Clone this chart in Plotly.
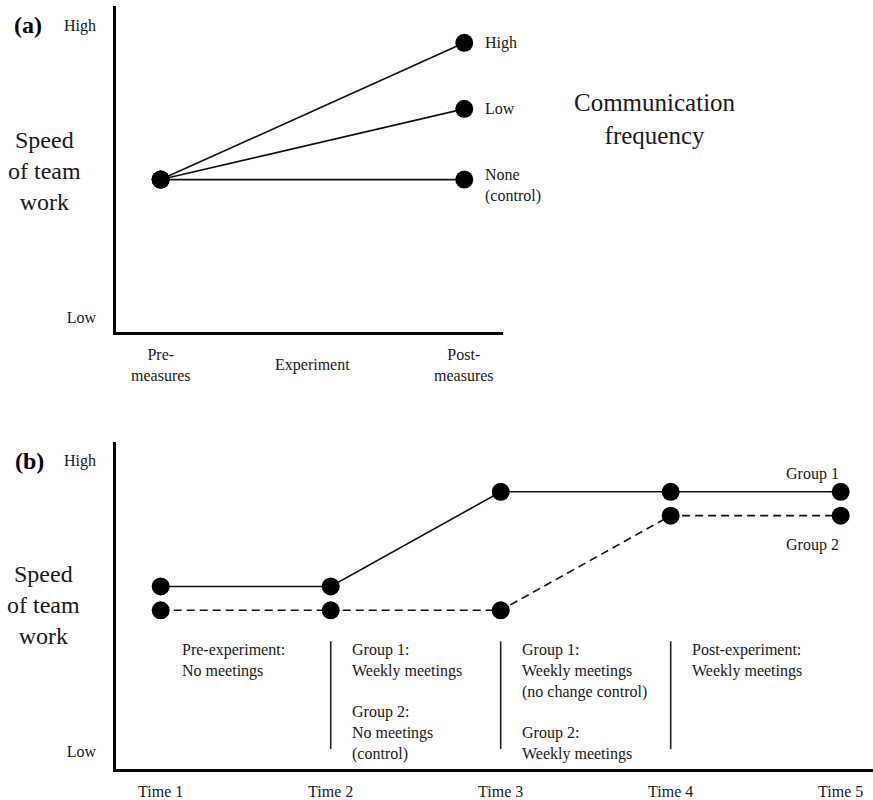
import plotly.graph_objects as go

W, H = 873, 800
FONT = "Liberation Serif, Times New Roman, serif"
TXT = "#1a1a1a"

# ---------------- Panel (a) data ----------------
a_x_labels = ["Pre-<br>measures", "Experiment", "Post-<br>measures"]
a_y_tickvals = [0, 10]
a_y_ticktext = ["Low", "High"]
a_pre_value = 4.71
a_post_levels = ["High", "Low", "None<br>(control)"]
a_post_values = [9.39, 7.13, 4.71]
a_legend_title = "Communication<br>frequency"

# ---------------- Panel (b) data ----------------
b_times = ["Time 1", "Time 2", "Time 3", "Time 4", "Time 5"]
b_group1 = [5.67, 5.67, 8.93, 8.93, 8.93]
b_group2 = [4.85, 4.85, 4.85, 8.11, 8.11]
b_y_tickvals = [0, 10]
b_y_ticktext = ["Low", "High"]
b_phase_text = [
    "Pre-experiment:<br>No meetings",
    "Group 1:<br>Weekly meetings<br> <br>Group 2:<br>No meetings<br>(control)",
    "Group 1:<br>Weekly meetings<br>(no change control)<br> <br>Group 2:<br>Weekly meetings",
    "Post-experiment:<br>Weekly meetings",
]
b_separators = [2, 3, 4]
b_group_labels = ["Group 1", "Group 2"]

y_title = "Speed<br>of team<br>work"

fig = go.Figure()

# Panel (a) lines from pre to each post level
for lvl, val in zip(a_post_levels, a_post_values):
    fig.add_trace(go.Scatter(
        x=[0, 2], y=[a_pre_value, val], mode="lines+markers",
        line=dict(color="#111", width=1.6),
        marker=dict(color="black", size=18),
        xaxis="x", yaxis="y", showlegend=False, hoverinfo="skip"))

# Panel (b)
xs = list(range(1, len(b_times) + 1))
fig.add_trace(go.Scatter(
    x=xs, y=b_group1, mode="lines+markers",
    line=dict(color="#111", width=1.6),
    marker=dict(color="black", size=18),
    xaxis="x2", yaxis="y2", showlegend=False, hoverinfo="skip"))
fig.add_trace(go.Scatter(
    x=xs, y=b_group2, mode="lines+markers",
    line=dict(color="#111", width=1.6, dash="8px,5px"),
    marker=dict(color="black", size=18),
    xaxis="x2", yaxis="y2", showlegend=False, hoverinfo="skip"))

annotations = []
# (a) x labels
for i, lab in enumerate(a_x_labels):
    annotations.append(dict(x=i, y=(800 - 366) / 800, xref="x", yref="paper",
                            text=lab, showarrow=False, xanchor="center", yanchor="middle",
                            font=dict(family=FONT, size=16, color=TXT)))
# (a) post labels
for lvl, val in zip(a_post_levels, a_post_values):
    yv = val if "<br>" not in lvl else val - 0.2
    annotations.append(dict(x=2.123, y=yv, xref="x", yref="y", text=lvl, align="left",
                            showarrow=False, xanchor="left", yanchor="middle",
                            font=dict(family=FONT, size=16, color=TXT)))
annotations.append(dict(x=655 / W, y=(800 - 119) / 800, xref="paper", yref="paper",
                        text=a_legend_title, showarrow=False, xanchor="center", yanchor="middle",
                        font=dict(family=FONT, size=25, color=TXT)))
# y titles
annotations.append(dict(x=44 / W, y=(800 - 171) / 800, xref="paper", yref="paper",
                        text=y_title, showarrow=False, xanchor="center", yanchor="middle",
                        font=dict(family=FONT, size=24, color=TXT)))
annotations.append(dict(x=43 / W, y=(800 - 607) / 800, xref="paper", yref="paper",
                        text=y_title, showarrow=False, xanchor="center", yanchor="middle",
                        font=dict(family=FONT, size=24, color=TXT)))
# panel letters
annotations.append(dict(x=28 / W, y=(800 - 25) / 800, xref="paper", yref="paper",
                        text="<b>(a)</b>", showarrow=False, xanchor="center", yanchor="middle",
                        font=dict(family=FONT, size=24, color="black")))
annotations.append(dict(x=29 / W, y=(800 - 462) / 800, xref="paper", yref="paper",
                        text="<b>(b)</b>", showarrow=False, xanchor="center", yanchor="middle",
                        font=dict(family=FONT, size=24, color="black")))
# (b) phase texts
for i, t in enumerate(b_phase_text):
    annotations.append(dict(x=1 + i + 0.112, y=(753 - 641) / 29.1, xref="x2", yref="y2",
                            text=t, align="left", showarrow=False, xanchor="left", yanchor="top",
                            font=dict(family=FONT, size=16, color=TXT)))
# group labels
annotations.append(dict(x=5, y=9.53, xref="x2", yref="y2", text=b_group_labels[0],
                        showarrow=False, xanchor="right", yanchor="middle",
                        font=dict(family=FONT, size=16, color=TXT)))
annotations.append(dict(x=5, y=7.09, xref="x2", yref="y2", text=b_group_labels[1],
                        showarrow=False, xanchor="right", yanchor="middle",
                        font=dict(family=FONT, size=16, color=TXT)))

shapes = []
for s in b_separators:
    shapes.append(dict(type="line", xref="x2", yref="y2", x0=s, x1=s, y0=0.07, y1=3.78,
                       line=dict(color="#222", width=1.6)))

axis_common = dict(showgrid=False, zeroline=False, showline=True, linecolor="black",
                   linewidth=2.5, ticks="", fixedrange=True)

fig.update_layout(
    width=W, height=H,
    margin=dict(l=0, r=0, t=0, b=0),
    paper_bgcolor="white", plot_bgcolor="white",
    font=dict(family=FONT, size=16, color=TXT),
    xaxis=dict(domain=[116 / W, 503 / W], range=[-0.294, 2.255], anchor="y",
               showticklabels=False, **axis_common),
    yaxis=dict(domain=[(800 - 333) / 800, (800 - 6) / 800], range=[-0.51, 10.65], anchor="x",
               tickvals=a_y_tickvals, ticktext=a_y_ticktext, ticklabelstandoff=14,
               tickfont=dict(family=FONT, size=16, color=TXT), **axis_common),
    xaxis2=dict(domain=[116 / W, 1], range=[0.737, 5.19], anchor="y2",
                tickvals=xs, ticktext=b_times, ticklabelstandoff=6,
                tickfont=dict(family=FONT, size=16, color=TXT), **axis_common),
    yaxis2=dict(domain=[(800 - 771) / 800, (800 - 443) / 800], range=[-0.62, 10.65], anchor="x2",
                tickvals=b_y_tickvals, ticktext=b_y_ticktext, ticklabelstandoff=14,
                tickfont=dict(family=FONT, size=16, color=TXT), **axis_common),
    annotations=annotations,
    shapes=shapes,
)

fig.write_html("out.html", config={"displayModeBar": False},
               post_script="document.body.style.margin='0px';")
